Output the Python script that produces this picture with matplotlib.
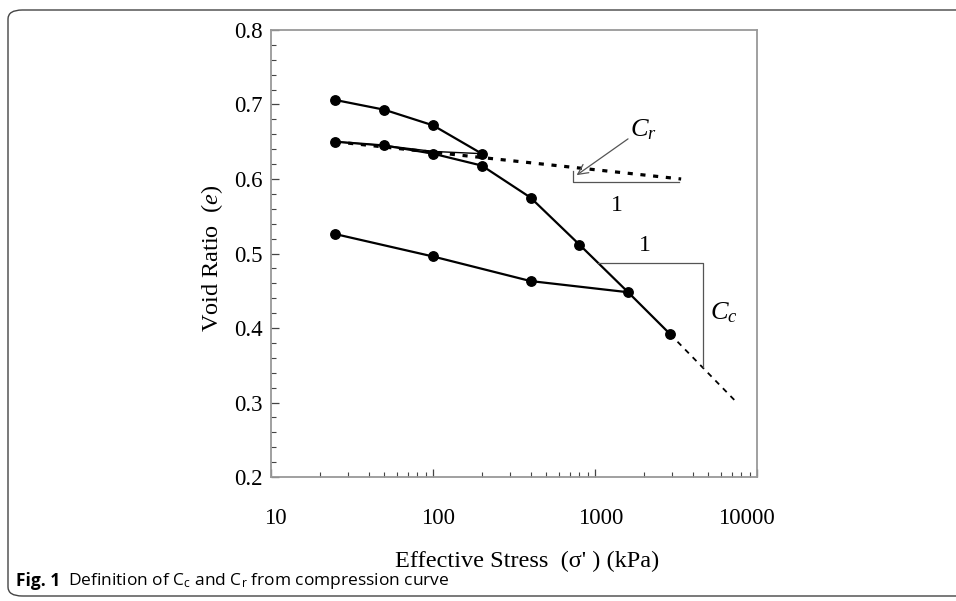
import matplotlib
matplotlib.use("Agg")
import matplotlib.pyplot as plt
from matplotlib.patches import FancyBboxPatch
from matplotlib.transforms import ScaledTranslation

plt.rcParams['font.family'] = ['Liberation Serif', 'DejaVu Serif']
plt.rcParams['mathtext.fontset'] = 'custom'
plt.rcParams['mathtext.rm'] = 'Liberation Serif'
plt.rcParams['mathtext.it'] = 'Liberation Serif:italic'

# loading / unloading / reloading branches (stress kPa, void ratio)
load1_x = [25, 50, 100, 200]
load1_e = [0.706, 0.693, 0.672, 0.634]
unload1_x = [200, 100, 50, 25]
unload1_e = [0.634, 0.637, 0.645, 0.650]
reload_x = [25, 50, 100, 200, 400, 800, 1600, 2900]
reload_e = [0.650, 0.645, 0.634, 0.618, 0.575, 0.512, 0.448, 0.392]
unload2_x = [1600, 400, 100, 25]
unload2_e = [0.448, 0.463, 0.496, 0.526]

# recompression line (dotted) and virgin-line extension (dashed)
cr_x = [25, 3400]
cr_e = [0.650, 0.600]
ext_x = [2900, 7500]
ext_e = [0.392, 0.300]

# slope triangles
cr_tri_x = [731, 731, 3300]
cr_tri_e = [0.611, 0.596, 0.596]
cc_tri_x = [1045, 4645, 4645]
cc_tri_e = [0.487, 0.487, 0.348]

fig = plt.figure(figsize=(9.56, 6.01), dpi=100)
ax = fig.add_axes([0.2835, 0.2063, 0.5084, 0.7438])

lw = 1.6
ax.plot(load1_x, load1_e, color='black', lw=lw, marker='o', ms=6.8)
ax.plot(unload1_x, unload1_e, color='black', lw=1.0)
ax.plot(reload_x, reload_e, color='black', lw=lw, marker='o', ms=6.8)
ax.plot(unload2_x, unload2_e, color='black', lw=lw, marker='o', ms=6.8, markevery=[1, 2, 3])
ax.plot(cr_x, cr_e, color='black', lw=2.3, linestyle=(0, (1.6, 2.4)))
ax.plot(ext_x, ext_e, color='black', lw=1.3, linestyle=(0, (3, 3)))

ax.plot(cr_tri_x, cr_tri_e, color='#555555', lw=0.9)
ax.plot(cc_tri_x, cc_tri_e, color='#555555', lw=0.9)

ax.annotate('', xy=(745, 0.603), xytext=(1650, 0.656),
            arrowprops=dict(arrowstyle='->', color='#555555', lw=0.9,
                            mutation_scale=18))
ax.text(1980, 0.666, r'$C_r$', fontsize=19, ha='center', va='center')
ax.text(1370, 0.565, '1', fontsize=17, ha='center', va='center')
ax.text(2040, 0.511, '1', fontsize=17, ha='center', va='center')
ax.text(6200, 0.420, r'$C_c$', fontsize=19, ha='center', va='center')

ax.set_xscale('log')
ax.set_xlim(10, 10000)
ax.set_ylim(0.2, 0.8)
ax.set_yticks([0.2, 0.3, 0.4, 0.5, 0.6, 0.7, 0.8])
ax.set_yticks([0.2 + 0.02 * i for i in range(31)], minor=True)
ax.set_xticks([10, 100, 1000, 10000])
ax.set_xticklabels(['10', '100', '1000', '10000'])
ax.tick_params(which='both', direction='in', color='#444444', labelsize=16.5)
ax.tick_params(which='major', length=6, width=0.9)
ax.tick_params(which='minor', length=3.5, width=0.8)
ax.tick_params(axis='x', pad=22)
ax.tick_params(axis='y', pad=6)
for s in ax.spines.values():
    s.set_color('#999999')
    s.set_linewidth(1.3)

# nudge x tick labels like the original (last one pulled inwards)
shifts = [4, 5, 6, -11]
for lab, dx in zip(ax.get_xticklabels(), shifts):
    lab.set_transform(lab.get_transform() + ScaledTranslation(dx / 100, 0, fig.dpi_scale_trans))

ax.set_xlabel("Effective Stress  (σ' ) (kPa)", fontsize=17.5)
ax.xaxis.set_label_coords(0.527, -0.188)
ax.xaxis.label.set_va('center')
ax.set_ylabel(r'Void Ratio  ($\it{e}$)', fontsize=17.5)
ax.yaxis.set_label_coords(-0.121, 0.49)
ax.yaxis.label.set_va('center')

# figure frame and caption
frame = FancyBboxPatch((8 / 956, 5 / 601), 1.2, 586 / 601,
                       boxstyle='round,pad=0,rounding_size=0.015',
                       transform=fig.transFigure, fill=False,
                       edgecolor='#444444', lw=1.0)
fig.patches.append(frame)
fig.text(16 / 956, 20 / 601, 'Fig. 1', fontsize=12.5, fontweight='bold',
         family='Open Sans', ha='left', va='center')
fig.text(68 / 956, 20 / 601,
         r'Definition of C$_\mathregular{c}$ and C$_\mathregular{r}$ from compression curve',
         fontsize=12.5, family='Open Sans', ha='left', va='center')

fig.savefig('out.png', dpi=100)
